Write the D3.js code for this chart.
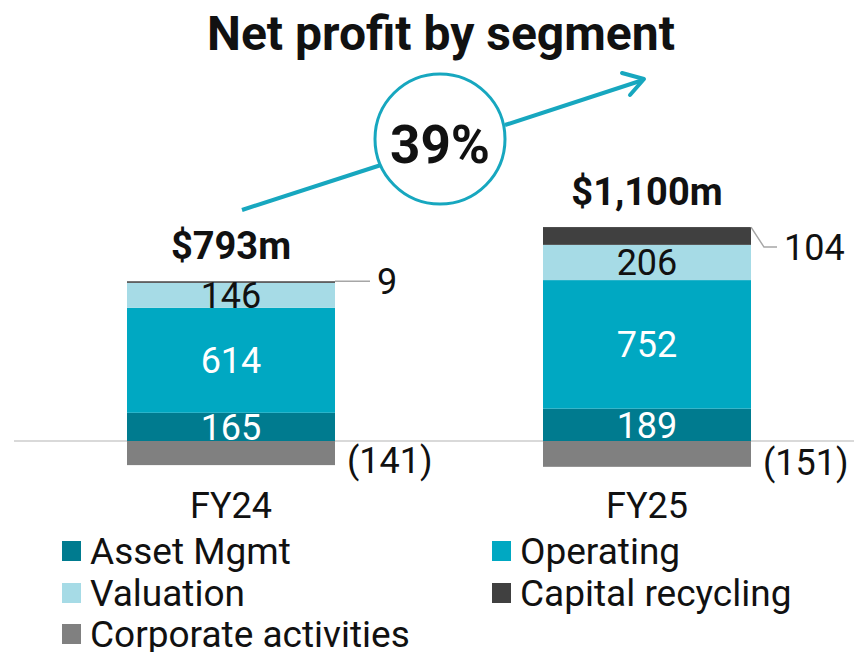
<!DOCTYPE html>
<html>
<head>
<meta charset="utf-8">
<script src="https://cdn.jsdelivr.net/npm/d3@7"></script>
<style>
  body { margin: 0; background: #fff; }
  text { font-family: Roboto, "Liberation Sans", sans-serif; }
</style>
</head>
<body>
<script>
// chart size
var w = 854;
var h = 652;

// data
var years = ["FY24", "FY25"];
var segments = ["Asset Mgmt", "Operating", "Valuation", "Capital recycling", "Corporate activities"];
var assetMgmt = [165, 189];
var operating = [614, 752];
var valuation = [146, 206];
var capitalRecycling = [9, 104];
var corporate = [-141, -151];
var totalLabels = ["$793m", "$1,100m"];
var growthLabel = "39%";
var title = "Net profit by segment";

var colors = ["#007b8f", "#00a8c2", "#a6dbe6", "#404040", "#808080"];

// table for the stack
var keys = ["asset", "operating", "valuation", "capital", "corporate"];
var table = years.map(function(y, i) {
  return {
    year: y,
    asset: assetMgmt[i],
    operating: operating[i],
    valuation: valuation[i],
    capital: capitalRecycling[i],
    corporate: corporate[i]
  };
});

var svg = d3.select("body")
  .append("svg")
  .attr("width", w)
  .attr("height", h);

var x = d3.scaleBand()
  .domain(years)
  .range([23, 855])
  .paddingInner(0.5)
  .paddingOuter(0.25);

var y = d3.scaleLinear()
  .domain([0, 1000])
  .range([441, 270]);

var stack = d3.stack()
  .keys(keys)
  .offset(d3.stackOffsetDiverging);
var series = stack(table);

// zero line
svg.append("line")
  .attr("x1", 14).attr("x2", w)
  .attr("y1", y(0)).attr("y2", y(0))
  .attr("stroke", "#d9d9d9")
  .attr("stroke-width", 2);

// bars
var groups = svg.selectAll("g.series")
  .data(series)
  .enter()
  .append("g")
  .attr("class", "series")
  .attr("fill", function(d, i) { return colors[i]; });

groups.selectAll("rect")
  .data(function(d) { return d; })
  .enter()
  .append("rect")
  .attr("x", function(d) { return x(d.data.year); })
  .attr("width", x.bandwidth())
  .attr("y", function(d) { return y(Math.max(d[0], d[1])); })
  .attr("height", function(d) { return Math.abs(y(d[0]) - y(d[1])); });

// labels inside bars (asset, operating, valuation)
var inside = [0, 1, 2];
inside.forEach(function(si) {
  svg.selectAll("text.in" + si)
    .data(series[si])
    .enter()
    .append("text")
    .attr("x", function(d) { return x(d.data.year) + x.bandwidth() / 2; })
    .attr("y", function(d) { return (y(d[0]) + y(d[1])) / 2 + 13; })
    .attr("text-anchor", "middle")
    .attr("font-size", 36)
    .attr("fill", si == 2 ? "#111" : "#fff")
    .text(function(d) { return d.data[keys[si]]; });
});

// capital recycling: label outside with leader line
var drop = [0, 20];
series[3].forEach(function(d, i) {
  var bx = x(d.data.year) + x.bandwidth();
  var top = y(d[1]);
  var ly = top + drop[i];
  var pts = drop[i] > 0
    ? [[bx, top], [bx + 13, ly], [bx + 26, ly]]
    : [[bx, top], [bx + 35, ly]];
  svg.append("path")
    .attr("d", d3.line()(pts))
    .attr("fill", "none")
    .attr("stroke", "#a6a6a6")
    .attr("stroke-width", 1.5);
  svg.append("text")
    .attr("x", pts[pts.length - 1][0] + 7)
    .attr("y", ly + 13)
    .attr("font-size", 36)
    .attr("fill", "#111")
    .text(d.data.capital);
});

// corporate: label to the right
series[4].forEach(function(d) {
  svg.append("text")
    .attr("x", x(d.data.year) + x.bandwidth() + 12)
    .attr("y", y(d[0]) + 8)
    .attr("font-size", 36)
    .attr("fill", "#111")
    .text("(" + Math.abs(d.data.corporate) + ")");
});

// totals above bars
series[3].forEach(function(d, i) {
  svg.append("text")
    .attr("x", x(d.data.year) + x.bandwidth() / 2)
    .attr("y", y(d[1]) - 22)
    .attr("text-anchor", "middle")
    .attr("font-size", 38)
    .attr("font-weight", "bold")
    .attr("fill", "#111")
    .text(totalLabels[i]);
});

// category labels
svg.selectAll("text.cat")
  .data(years)
  .enter()
  .append("text")
  .attr("class", "cat")
  .attr("x", function(d) { return x(d) + x.bandwidth() / 2; })
  .attr("y", 518)
  .attr("text-anchor", "middle")
  .attr("font-size", 36)
  .attr("fill", "#111")
  .text(function(d) { return d; });

// title
svg.append("text")
  .attr("x", 441)
  .attr("y", 50)
  .attr("text-anchor", "middle")
  .attr("font-size", 48)
  .attr("font-weight", "bold")
  .attr("fill", "#111")
  .text(title);

// growth arrow with circle
var teal = "#17a7bf";
var cx = 440, cy = 139, r = 65;
svg.append("line")
  .attr("x1", 242).attr("y1", 210)
  .attr("x2", 381).attr("y2", 165)
  .attr("stroke", teal).attr("stroke-width", 4);
svg.append("line")
  .attr("x1", 505).attr("y1", 125)
  .attr("x2", 643).attr("y2", 80)
  .attr("stroke", teal).attr("stroke-width", 4);
svg.append("path")
  .attr("d", "M622,73 L644,79 L630,95")
  .attr("fill", "none")
  .attr("stroke", teal)
  .attr("stroke-width", 4)
  .attr("stroke-linecap", "round")
  .attr("stroke-linejoin", "round");
svg.append("circle")
  .attr("cx", cx).attr("cy", cy).attr("r", r)
  .attr("fill", "#fff")
  .attr("stroke", teal)
  .attr("stroke-width", 3);
svg.append("text")
  .attr("x", cx)
  .attr("y", cy + 24)
  .attr("text-anchor", "middle")
  .attr("font-size", 53)
  .attr("font-weight", "bold")
  .attr("fill", "#111")
  .text(growthLabel);

// legend
var legCols = [62, 492];
var legRows = [551, 593, 634];
var legend = svg.selectAll("g.leg")
  .data(segments)
  .enter()
  .append("g")
  .attr("class", "leg")
  .attr("transform", function(d, i) {
    return "translate(" + legCols[i % 2] + "," + legRows[Math.floor(i / 2)] + ")";
  });
legend.append("rect")
  .attr("x", 0).attr("y", -10)
  .attr("width", 19).attr("height", 20)
  .attr("fill", function(d, i) { return colors[i]; });
legend.append("text")
  .attr("x", 28)
  .attr("y", 13)
  .attr("font-size", 37)
  .attr("fill", "#111")
  .text(function(d) { return d; });
</script>
</body>
</html>
